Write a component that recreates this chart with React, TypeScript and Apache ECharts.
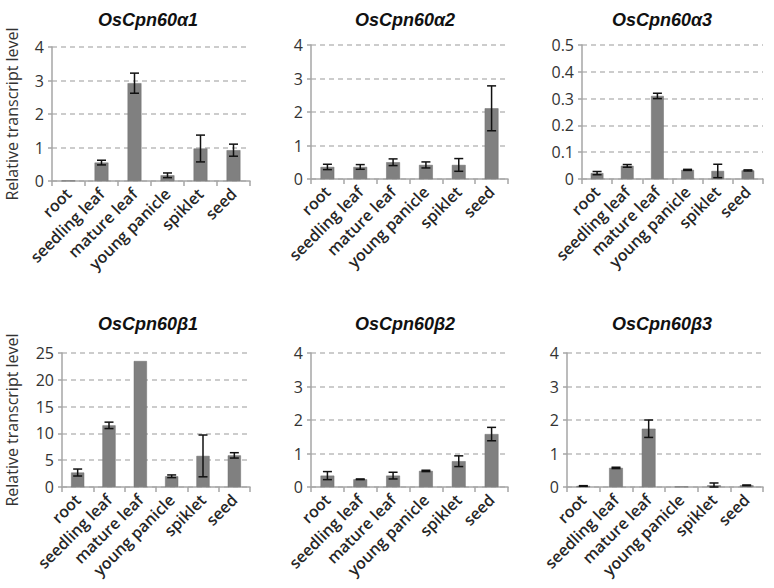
import React, { useEffect, useRef } from "react";
import * as echarts from "echarts";

const categories = ["root", "seedling leaf", "mature leaf", "young panicle", "spiklet", "seed"];

const titles = ["OsCpn60α1", "OsCpn60α2", "OsCpn60α3", "OsCpn60β1", "OsCpn60β2", "OsCpn60β3"];

const a1 = [0.01, 0.55, 2.92, 0.17, 0.97, 0.92];
const a1Err = [0, 0.07, 0.3, 0.07, 0.4, 0.18];
const a2 = [0.36, 0.36, 0.5, 0.42, 0.42, 2.11];
const a2Err = [0.08, 0.07, 0.1, 0.09, 0.19, 0.67];
const a3 = [0.022, 0.049, 0.31, 0.034, 0.03, 0.032];
const a3Err = [0.006, 0.005, 0.01, 0.002, 0.025, 0.002];
const b1 = [2.7, 11.5, 23.5, 2.0, 5.8, 5.9];
const b1Err = [0.65, 0.6, 0, 0.25, 3.9, 0.5];
const b2 = [0.34, 0.23, 0.34, 0.48, 0.77, 1.58];
const b2Err = [0.12, 0.01, 0.1, 0.02, 0.16, 0.2];
const b3 = [0.03, 0.57, 1.74, 0.01, 0.05, 0.05];
const b3Err = [0.01, 0.02, 0.26, 0, 0.07, 0.01];

const yMax = [4, 4, 0.5, 25, 4, 4];
const yStep = [1, 1, 0.1, 5, 1, 1];

const values = [a1, a2, a3, b1, b2, b3];
const errors = [a1Err, a2Err, a3Err, b1Err, b2Err, b3Err];

const grids = [
  { left: 52, top: 47, width: 198, height: 134 },
  { left: 311, top: 45, width: 197, height: 134 },
  { left: 582, top: 45, width: 181, height: 134 },
  { left: 62, top: 353, width: 188, height: 134 },
  { left: 311, top: 353, width: 197, height: 134 },
  { left: 567, top: 353, width: 196, height: 134 },
];
const titlePos = [
  { x: 143, y: 6 },
  { x: 400, y: 6 },
  { x: 657, y: 6 },
  { x: 143, y: 310 },
  { x: 400, y: 310 },
  { x: 657, y: 310 },
];

const FONT = "'Open Sans', Lato, sans-serif";
const AXIS_COLOR = "#a6a6a6";

export default function App() {
  const ref = useRef<HTMLDivElement>(null);
  useEffect(() => {
    document.body.style.margin = "0";
    if (!ref.current) return;
    const chart = echarts.init(ref.current, null, { renderer: "svg" });

    const series: any[] = [];
    values.forEach((vals, i) => {
      series.push({
        type: "bar",
        xAxisIndex: i,
        yAxisIndex: i,
        data: vals,
        barWidth: "42%",
        itemStyle: { color: "#808080", borderColor: "#6e6e6e", borderWidth: 0.5 },
        silent: true,
      });
      series.push({
        type: "custom",
        xAxisIndex: i,
        yAxisIndex: i,
        data: vals.map((v, k) => [k, v, errors[i][k]]),
        encode: { x: 0, y: 1 },
        silent: true,
        z: 5,
        renderItem: (params: any, api: any) => {
          const idx = api.value(0);
          const v = api.value(1);
          const e = api.value(2);
          if (!e) return null;
          const top = api.coord([idx, v + e]);
          const bot = api.coord([idx, Math.max(v - e, 0)]);
          const hw = 4.5;
          const st = { stroke: "#111", lineWidth: 1.5 };
          return {
            type: "group",
            children: [
              { type: "line", shape: { x1: top[0], y1: top[1], x2: bot[0], y2: bot[1] }, style: st },
              { type: "line", shape: { x1: top[0] - hw, y1: top[1], x2: top[0] + hw, y2: top[1] }, style: st },
              { type: "line", shape: { x1: bot[0] - hw, y1: bot[1], x2: bot[0] + hw, y2: bot[1] }, style: st },
            ],
          };
        },
      });
    });

    const option: any = {
      animation: false,
      backgroundColor: "#ffffff",
      title: titles.map((t, i) => ({
        text: t,
        left: titlePos[i].x,
        top: titlePos[i].y,
        textAlign: "center",
        textStyle: {
          fontFamily: "'Liberation Sans', Arial, sans-serif",
          fontStyle: "italic",
          fontWeight: "bold",
          fontSize: 18,
          color: "#111",
        },
      })),
      grid: grids,
      xAxis: grids.map((_, i) => ({
        type: "category",
        gridIndex: i,
        data: categories,
        boundaryGap: true,
        axisLine: { lineStyle: { color: AXIS_COLOR, width: 1.5 } },
        axisTick: { show: true, length: 5, lineStyle: { color: AXIS_COLOR, width: 1.5 } },
        axisLabel: {
          interval: 0,
          rotate: 45,
          margin: 10,
          fontSize: 16,
          fontFamily: FONT,
          fontWeight: 600,
          color: "#262626",
        },
      })),
      yAxis: grids.map((_, i) => ({
        type: "value",
        gridIndex: i,
        min: 0,
        max: yMax[i],
        interval: yStep[i],
        name: i === 0 || i === 3 ? "Relative transcript level" : "",
        nameLocation: "middle",
        nameGap: i === 0 ? 32 : 42,
        nameTextStyle: { fontSize: 16, fontFamily: FONT, color: "#333" },
        axisLine: { show: true, lineStyle: { color: AXIS_COLOR, width: 1.5 } },
        axisTick: { show: true, length: 4, lineStyle: { color: AXIS_COLOR, width: 1.5 } },
        axisLabel: { fontSize: 16, fontFamily: FONT, color: "#333", margin: 8 },
        splitLine: { show: true, lineStyle: { color: "#bcbcbc", width: 1.5, type: [5, 4] } },
      })),
      series,
    };
    chart.setOption(option);
    return () => chart.dispose();
  }, []);
  return <div ref={ref} style={{ width: 774, height: 588 }} />;
}
